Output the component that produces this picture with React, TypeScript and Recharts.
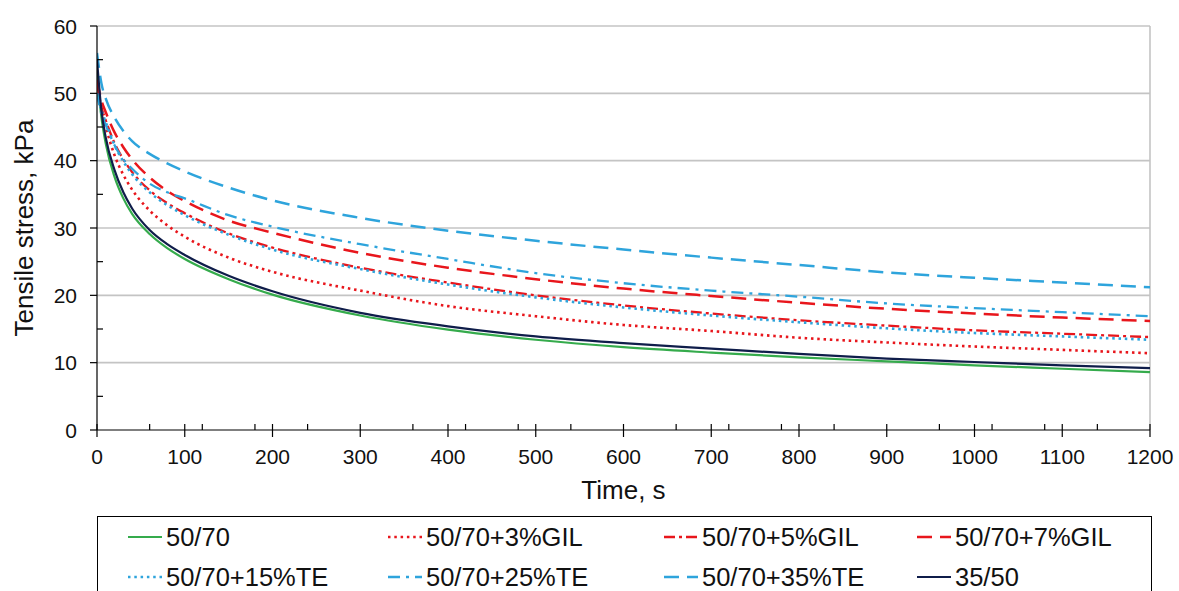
import React from 'react';
import { LineChart, Line, XAxis, YAxis, ReferenceLine, Label } from 'recharts';

const time = [0, 5, 10, 20, 30, 40, 60, 80, 100, 150, 200, 300, 400, 500, 600, 700, 800, 900, 1000, 1100, 1200];
const s5070 = [53, 46.5, 42.5, 37.6, 34.4, 32.1, 29.1, 27.0, 25.4, 22.4, 20.1, 17.0, 14.9, 13.4, 12.3, 11.5, 10.8, 10.2, 9.6, 9.1, 8.6];
const s3gil = [51, 47.5, 45, 40.8, 37.9, 35.7, 32.6, 30.4, 28.7, 25.6, 23.5, 20.7, 18.4, 16.9, 15.6, 14.7, 13.7, 13.0, 12.4, 11.9, 11.4];
const s5gil = [51.5, 48, 46, 42.6, 40.2, 38.3, 35.6, 33.7, 32.2, 29.2, 27.1, 24.1, 21.9, 20.0, 18.5, 17.3, 16.3, 15.5, 14.8, 14.3, 13.8];
const s7gil = [52, 49, 47.2, 44.2, 42.0, 40.2, 37.5, 35.5, 34.0, 31.1, 29.3, 26.3, 24.1, 22.4, 21.0, 19.9, 18.9, 18.0, 17.3, 16.7, 16.2];
const s15te = [50, 47.5, 45.7, 42.3, 39.9, 38.0, 35.3, 33.4, 31.9, 29.0, 26.8, 23.9, 21.6, 19.7, 18.2, 17.0, 16.0, 15.1, 14.4, 13.9, 13.4];
const s25te = [50, 47, 45.3, 42.3, 40.2, 38.8, 36.6, 35.3, 34.4, 31.9, 30.2, 27.6, 25.4, 23.3, 21.8, 20.7, 19.8, 18.8, 18.1, 17.5, 16.9];
const s35te = [56, 51.5, 49.2, 46.4, 44.4, 42.9, 41.0, 39.6, 38.4, 36.0, 34.1, 31.5, 29.6, 28.1, 26.8, 25.6, 24.5, 23.4, 22.6, 21.9, 21.2];
const s3550 = [55, 47.5, 43.4, 38.6, 35.3, 32.9, 29.7, 27.6, 26.0, 22.9, 20.6, 17.4, 15.4, 13.9, 12.9, 12.1, 11.3, 10.6, 10.1, 9.6, 9.2];

const xMajorTicks = [0, 100, 200, 300, 400, 500, 600, 700, 800, 900, 1000, 1100, 1200];
const xMinorTicks = [60, 120, 180, 240, 360, 420, 480, 540, 660, 720, 780, 840, 960, 1020, 1080, 1140];
const yMajorTicks = [0, 10, 20, 30, 40, 50, 60];
const yMinorTicks = [5, 15, 25, 35, 45, 55];

const xAllTicks = [...xMajorTicks, ...xMinorTicks].sort((a, b) => a - b);
const yAllTicks = [...yMajorTicks, ...yMinorTicks].sort((a, b) => a - b);

const RED = '#e8161c';
const BLUE = '#2ea4dc';
const GREEN = '#35ab4c';
const NAVY = '#0f1d4a';

const seriesDefs = [
  { key: 's5070', name: '50/70', values: s5070, color: GREEN, dash: undefined as string | undefined, width: 2.2 },
  { key: 's3gil', name: '50/70+3%GIL', values: s3gil, color: RED, dash: '2.5 3.8', width: 2.6 },
  { key: 's5gil', name: '50/70+5%GIL', values: s5gil, color: RED, dash: '11 4 3 4', width: 2.3 },
  { key: 's7gil', name: '50/70+7%GIL', values: s7gil, color: RED, dash: '15 8', width: 2.5 },
  { key: 's15te', name: '50/70+15%TE', values: s15te, color: BLUE, dash: '2.5 3.8', width: 2.6 },
  { key: 's25te', name: '50/70+25%TE', values: s25te, color: BLUE, dash: '12 6 3 6', width: 2.3 },
  { key: 's35te', name: '50/70+35%TE', values: s35te, color: BLUE, dash: '15 8', width: 2.5 },
  { key: 's3550', name: '35/50', values: s3550, color: NAVY, dash: undefined as string | undefined, width: 2.2 },
];

const data = time.map((t, i) => {
  const row: Record<string, number> = { t };
  seriesDefs.forEach((s) => {
    row[s.key] = s.values[i];
  });
  return row;
});

const FONT = '"Liberation Sans", Arial, sans-serif';

const XTick = (props: any) => {
  const { x, y, payload } = props;
  const v = payload.value;
  const major = xMajorTicks.includes(v);
  return (
    <g>
      <line x1={x} x2={x} y1={y - 6} y2={major ? y + 7 : y} stroke="#000" strokeWidth={1.2} />
      {major && (
        <text x={x} y={y + 34} textAnchor="middle" fontSize={21} fontFamily={FONT} fill="#111">
          {v}
        </text>
      )}
    </g>
  );
};

const YTick = (props: any) => {
  const { x, y, payload } = props;
  const v = payload.value;
  const major = yMajorTicks.includes(v);
  return (
    <g>
      {major ? (
        <line x1={x - 7} x2={x} y1={y} y2={y} stroke="#000" strokeWidth={1.2} />
      ) : (
        <line x1={x} x2={x + 6} y1={y} y2={y} stroke="#000" strokeWidth={1.2} />
      )}
      {major && (
        <text x={x - 20} y={y + 7.5} textAnchor="end" fontSize={21} fontFamily={FONT} fill="#111">
          {v}
        </text>
      )}
    </g>
  );
};

const XTitle = (props: any) => {
  const vb = props.viewBox || { x: 97, y: 430, width: 1053 };
  return (
    <text x={vb.x + vb.width / 2} y={vb.y + 69} textAnchor="middle" fontSize={26} fontFamily={FONT} fill="#111">
      Time, s
    </text>
  );
};

const YTitle = (props: any) => {
  const vb = props.viewBox || { x: 0, y: 26, height: 404 };
  const cx = 33;
  const cy = vb.y + vb.height / 2;
  return (
    <text x={cx} y={cy} textAnchor="middle" fontSize={26} fontFamily={FONT} fill="#111" transform={`rotate(-90, ${cx}, ${cy})`}>
      Tensile stress, kPa
    </text>
  );
};

const legendCols = [128, 388, 664, 917];
const legendRows = [537, 577];

export default function App() {
  return (
    <div style={{ position: 'absolute', left: 0, top: 0, width: 1179, height: 591, overflow: 'hidden', background: '#fff' }}>
      <LineChart width={1179} height={591} data={data} margin={{ top: 26, right: 29, left: 0, bottom: 86 }}>
        {yMajorTicks.filter((v) => v > 0).map((v) => (
          <ReferenceLine key={'g' + v} y={v} stroke="#c4c4c4" strokeWidth={1.6} ifOverflow="extendDomain" />
        ))}
        <ReferenceLine x={1200} stroke="#c4c4c4" strokeWidth={1.6} />
        <XAxis
          dataKey="t"
          type="number"
          domain={[0, 1200]}
          ticks={xAllTicks}
          interval={0}
          tickSize={0}
          tickMargin={0}
          tickLine={false}
          tick={<XTick />}
          axisLine={{ stroke: '#000', strokeWidth: 1.2 }}
          height={75}
          allowDataOverflow
        >
          <Label content={<XTitle />} />
        </XAxis>
        <YAxis
          type="number"
          domain={[0, 60]}
          ticks={yAllTicks}
          interval={0}
          tickSize={0}
          tickMargin={0}
          tickLine={false}
          tick={<YTick />}
          axisLine={{ stroke: '#000', strokeWidth: 1.2 }}
          width={97}
          allowDataOverflow
        >
          <Label content={<YTitle />} />
        </YAxis>
        {seriesDefs.map((s) => (
          <Line
            key={s.key}
            dataKey={s.key}
            name={s.name}
            type="monotone"
            stroke={s.color}
            strokeWidth={s.width}
            strokeDasharray={s.dash}
            dot={false}
            activeDot={false}
            isAnimationActive={false}
          />
        ))}
      </LineChart>
      <div
        style={{
          position: 'absolute',
          left: 97,
          top: 516,
          width: 1055,
          height: 100,
          border: '1.5px solid #000',
          boxSizing: 'border-box',
        }}
      />
      {seriesDefs.map((s, i) => {
        const col = legendCols[i % 4];
        const row = legendRows[Math.floor(i / 4)];
        return (
          <div
            key={'leg' + s.key}
            style={{
              position: 'absolute',
              left: col,
              top: row - 16,
              height: 32,
              display: 'flex',
              alignItems: 'center',
              whiteSpace: 'nowrap',
              fontFamily: FONT,
              fontSize: 25.5,
              color: '#111',
            }}
          >
            <svg width={34} height={10} style={{ marginRight: 4 }}>
              <line x1={0} x2={34} y1={5} y2={5} stroke={s.color} strokeWidth={s.width} strokeDasharray={s.dash} />
            </svg>
            <span>{s.name}</span>
          </div>
        );
      })}
    </div>
  );
}
